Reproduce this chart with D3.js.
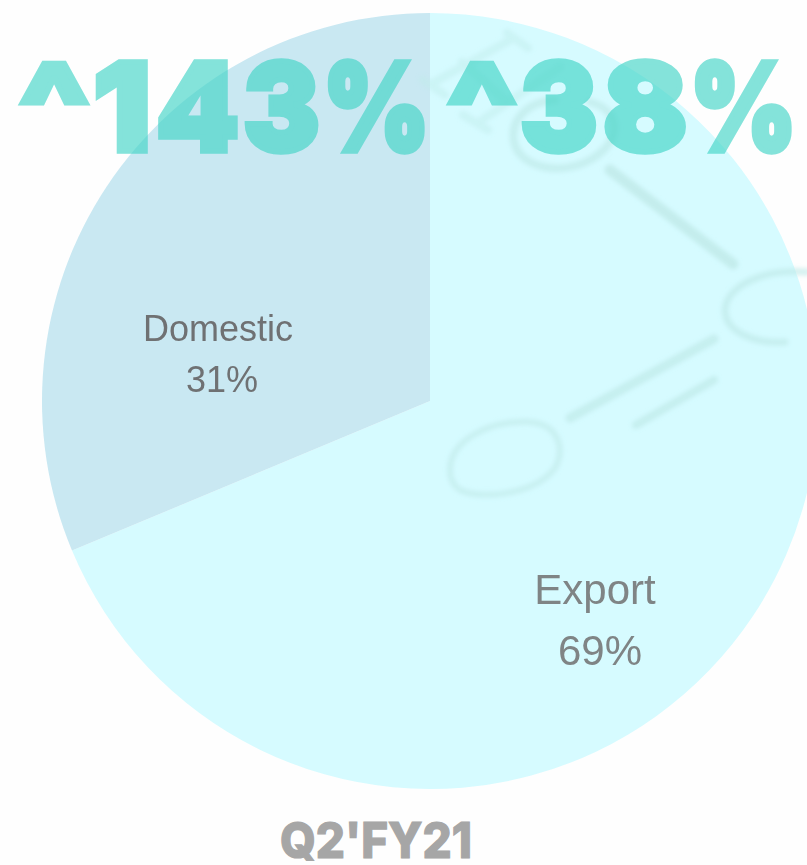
<!DOCTYPE html>
<html><head><meta charset="utf-8">
<script src="https://cdn.jsdelivr.net/npm/d3@7/dist/d3.min.js"></script>
<style>html,body{margin:0;padding:0;background:#fefefe;overflow:hidden}svg{display:block}</style>
</head><body><div id="chart"></div>
<script>
const categories = ["Export", "Domestic"];
const shares = [68.7, 31.3];
const sliceColors = ["#d6fbff", "#c9e8f2"];
const growthLabels = ["^143%", "^38%"];
const periodLabel = "Q2'FY21";

const W = 807, H = 865, cx = 430, cy = 401, R = 388;
const svg = d3.select("#chart").append("svg").attr("width", W).attr("height", H);
svg.append("defs").append("filter").attr("id", "soft")
  .append("feGaussianBlur").attr("stdDeviation", 2.2);

const pie = d3.pie().sort(null)(shares);
const arc = d3.arc().innerRadius(0).outerRadius(R);
const g = svg.append("g").attr("transform", `translate(${cx},${cy})`);
g.selectAll("path").data(pie).join("path")
  .attr("d", arc).attr("fill", (d, i) => sliceColors[i]);

// faint watermark sketch of a chemical formula behind the figures
const wm = svg.append("g").attr("filter", "url(#soft)").attr("fill", "none")
  .attr("stroke", "#bfeae8").attr("stroke-linecap", "round");
const strokes = [
  ["M610,170L733,264", 11, .8], ["M570,418L714,339", 9, .7], ["M636,425L714,380", 8, .7],
  ["M807,272C760,268 726,288 725,310C725,332 755,344 785,342", 7, .65],
  ["M555,100C525,102 510,122 514,142C520,168 560,176 590,160C625,140 620,110 590,102", 8, .65],
  ["M450,470C450,440 490,420 530,422C560,425 565,450 555,468C535,495 480,500 460,490C452,485 450,478 450,470Z", 6, .6],
  ["M507,33L528,48M510,40L433,83M423,80L445,95M463,115L488,130M482,120L560,67M462,62L505,100", 8, .45]
];
strokes.forEach(s => wm.append("path").attr("d", s[0]).attr("stroke-width", s[1]).attr("opacity", s[2]));

// slice labels
const labels = svg.append("g").attr("font-family", "'Liberation Sans', Arial, sans-serif");
const anchors = [[595, 604, 600, 665, "#7f8485", 42], [218, 341, 222, 392, "#6f7173", 36]];
categories.forEach((c, i) => {
  const a = anchors[i];
  labels.append("text").attr("x", a[0]).attr("y", a[1]).attr("font-size", a[5]).attr("text-anchor", "middle").attr("fill", a[4]).text(c);
  labels.append("text").attr("x", a[2]).attr("y", a[3]).attr("font-size", a[5]).attr("text-anchor", "middle").attr("fill", a[4]).text(Math.round(shares[i]) + "%");
});

// headline growth figures: one text each, every glyph fitted to the wide heavy face of the original
const big = svg.append("g").attr("font-family", "Inter, Roboto, sans-serif").attr("font-weight", 900)
  .attr("font-size", 122).attr("fill", "#3fd3c6").attr("stroke", "#3fd3c6")
  .attr("stroke-width", 5.5).attr("stroke-linejoin", "miter").attr("opacity", .64);
const glyphFit = [
  [[20, 1.16, 1], [93, 1.05, 0], [158, .97, 2], [245, .94, 2], [327, .84, 5]],
  [[448, 1.15, 1], [522, .95, 2], [605, 1.02, 2], [694, .84, 5]]
];
growthLabels.forEach((t, i) => {
  const text = big.append("text").attr("y", 151);
  Array.from(t).forEach((ch, j) => {
    const [left, sx, bearing] = glyphFit[i][j];
    const span = text.append("tspan").text(ch);
    const advance = span.node().getComputedTextLength();
    span.attr("x", left - bearing * sx)
      .attr("textLength", advance * sx).attr("lengthAdjust", "spacingAndGlyphs");
  });
});

svg.append("text").attr("x", 376).attr("y", 858).attr("text-anchor", "middle")
  .attr("font-family", "Inter, Roboto, sans-serif").attr("font-weight", 800)
  .attr("font-size", 50).attr("fill", "#a6a6a6").attr("stroke", "#a6a6a6").attr("stroke-width", 1.2)
  .attr("textLength", 192).attr("lengthAdjust", "spacingAndGlyphs").text(periodLabel);
</script></body></html>
